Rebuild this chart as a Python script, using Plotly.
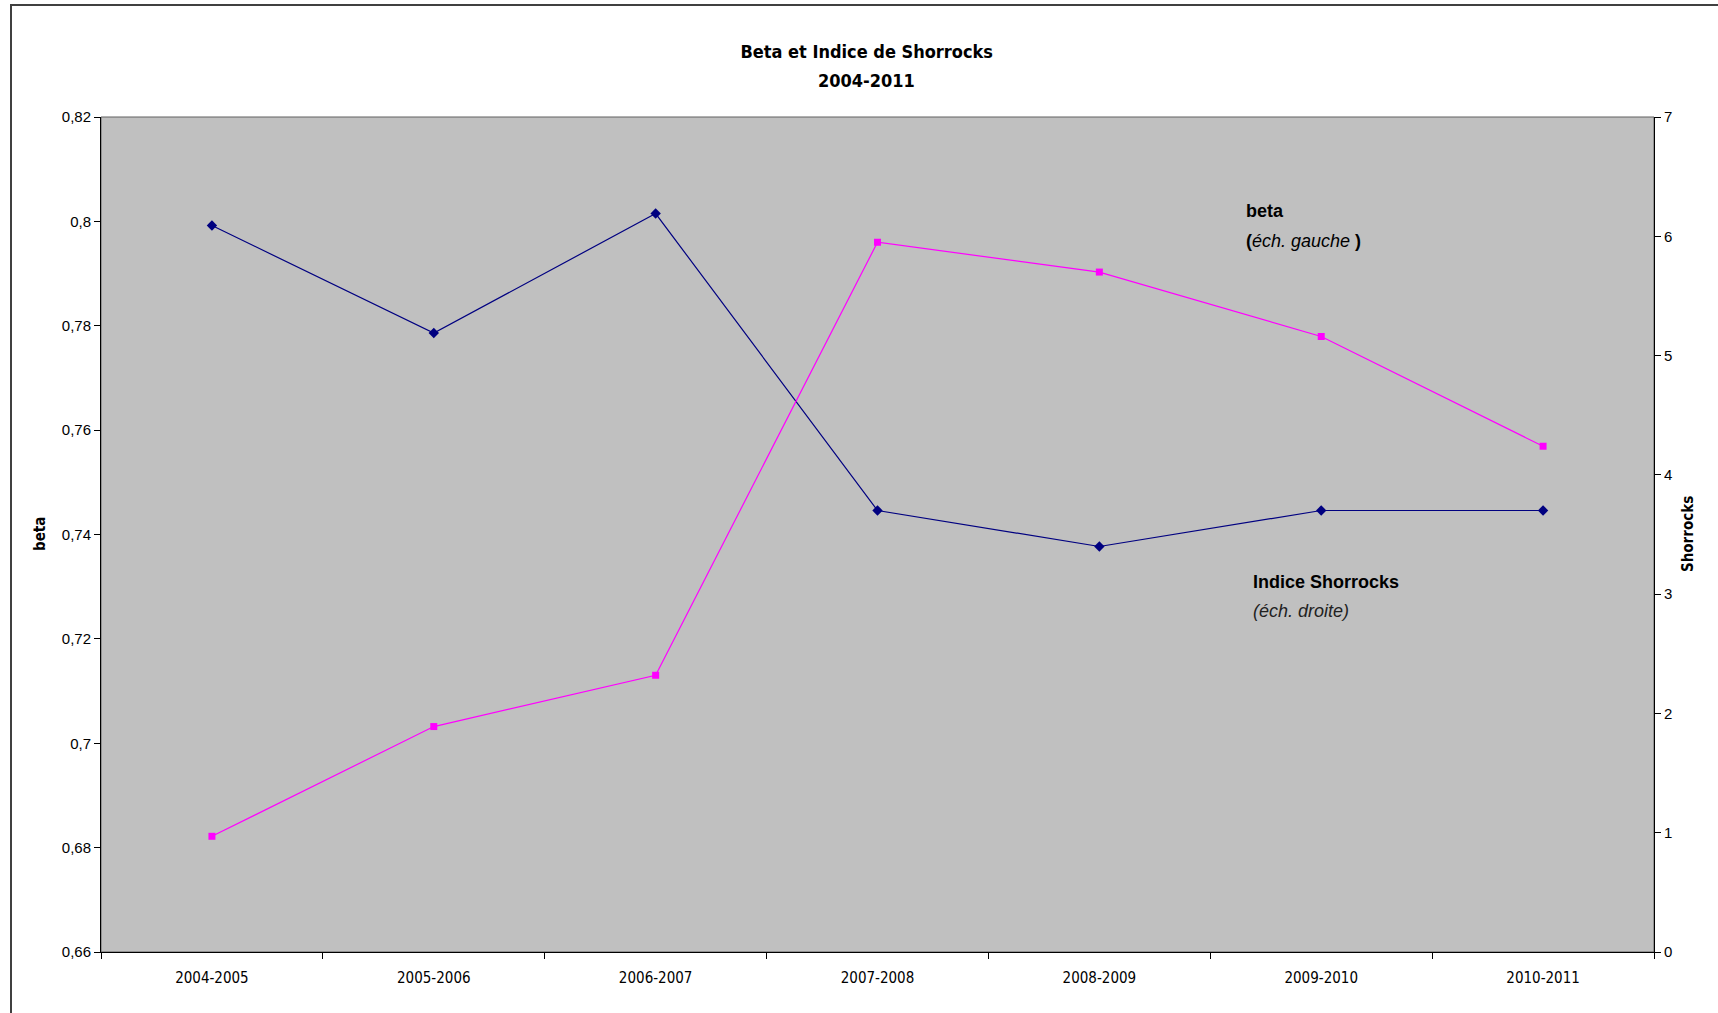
import plotly.graph_objects as go

categories = ["2004-2005", "2005-2006", "2006-2007", "2007-2008", "2008-2009", "2009-2010", "2010-2011"]
beta = [0.7992, 0.7786, 0.8015, 0.7446, 0.7377, 0.7446, 0.7446]
shorrocks = [0.97, 1.89, 2.32, 5.95, 5.70, 5.16, 4.24]

beta_ticks = [0.66, 0.68, 0.70, 0.72, 0.74, 0.76, 0.78, 0.80, 0.82]
beta_ticktext = ["0,66", "0,68", "0,7", "0,72", "0,74", "0,76", "0,78", "0,8", "0,82"]
shor_ticks = [0, 1, 2, 3, 4, 5, 6, 7]

W, H = 1718, 1013
L, R, T, B = 101, 1654, 117, 952

def px(x):
    return (x - L) / (R - L)

def py(y):
    return (B - y) / (B - T)

narrow = "DejaVu Sans Condensed, Liberation Sans Narrow, Arial Narrow, Liberation Sans, sans-serif"
arial = "Liberation Sans, Arial, sans-serif"

fig = go.Figure()
fig.add_trace(go.Scatter(
    x=categories, y=beta, mode="lines+markers", name="beta",
    line=dict(color="#000080", width=1.2),
    marker=dict(symbol="diamond", size=8, color="#000080"),
    yaxis="y"))
fig.add_trace(go.Scatter(
    x=categories, y=shorrocks, mode="lines+markers", name="Indice Shorrocks",
    line=dict(color="#FF00FF", width=1.2),
    marker=dict(symbol="square", size=7, color="#FF00FF"),
    yaxis="y2"))

fig.update_layout(
    width=W, height=H,
    margin=dict(l=L, r=W - R, t=T, b=H - B),
    paper_bgcolor="white",
    plot_bgcolor="#C0C0C0",
    showlegend=False,
    separators=", ",
    title=dict(
        text="<b>Beta et Indice de Shorrocks</b>",
        xref="container", x=866.7 / W, xanchor="center",
        yref="container", y=1 - 51.5 / H, yanchor="middle",
        font=dict(family=narrow, size=18, color="black")),
    xaxis=dict(
        type="category", range=[-0.5, 6.5], tickson="boundaries",
        showgrid=False, zeroline=False,
        showline=True, linecolor="black", linewidth=1,
        ticks="outside", ticklen=6, tickcolor="black",
        ticklabelstandoff=12,
        tickfont=dict(family=narrow, size=15, color="black")),
    yaxis=dict(
        range=[0.66, 0.82], tickvals=beta_ticks, ticktext=beta_ticktext,
        showgrid=False, zeroline=False,
        showline=True, linecolor="black", linewidth=1,
        ticks="outside", ticklen=6, tickcolor="black",
        tickfont=dict(family=arial, size=15, color="black")),
    yaxis2=dict(
        range=[0, 7], tickvals=shor_ticks, overlaying="y", side="right",
        showgrid=False, zeroline=False,
        showline=True, linecolor="black", linewidth=1,
        ticks="outside", ticklen=6, tickcolor="black",
        tickfont=dict(family=arial, size=15, color="black")),
)

# second title line
fig.add_annotation(x=px(866.7), y=py(80.5), xref="paper", yref="paper",
                   xanchor="center", yanchor="middle", showarrow=False,
                   text="<b>2004-2011</b>",
                   font=dict(family=narrow, size=18, color="black"))

fig.add_annotation(x=px(40), y=py(534), xref="paper", yref="paper",
                   xanchor="center", yanchor="middle",
                   text="<b>beta</b>", textangle=-90, showarrow=False,
                   font=dict(family=narrow, size=15, color="black"))
fig.add_annotation(x=px(1688), y=py(534), xref="paper", yref="paper",
                   xanchor="center", yanchor="middle",
                   text="<b>Shorrocks</b>", textangle=-90, showarrow=False,
                   font=dict(family=narrow, size=15, color="black"))

fig.add_annotation(x=px(1244), y=py(211), xref="paper", yref="paper",
                   xanchor="left", yanchor="middle", showarrow=False, align="left",
                   text="<b>beta</b>", font=dict(family=arial, size=18, color="black"))
fig.add_annotation(x=px(1244), y=py(241), xref="paper", yref="paper",
                   xanchor="left", yanchor="middle", showarrow=False, align="left",
                   text="<b>(</b><i>éch. gauche </i><b>)</b>", font=dict(family=arial, size=18, color="black"))
fig.add_annotation(x=px(1251), y=py(582), xref="paper", yref="paper",
                   xanchor="left", yanchor="middle", showarrow=False, align="left",
                   text="<b>Indice Shorrocks</b>", font=dict(family=arial, size=18, color="black"))
fig.add_annotation(x=px(1251), y=py(611), xref="paper", yref="paper",
                   xanchor="left", yanchor="middle", showarrow=False, align="left",
                   text="<i>(éch. droite)</i>", font=dict(family=arial, size=18, color="#222222"))

# plot area border
fig.add_shape(type="rect", xref="paper", yref="paper", x0=0, x1=1, y0=0, y1=1,
              line=dict(color="#606060", width=1), layer="below")
# outer chart frame
fig.add_shape(type="rect", xref="paper", yref="paper",
              x0=px(11), x1=px(W + 20), y0=py(H + 20), y1=py(5),
              line=dict(color="#404040", width=2))

fig.write_html("out.html")
